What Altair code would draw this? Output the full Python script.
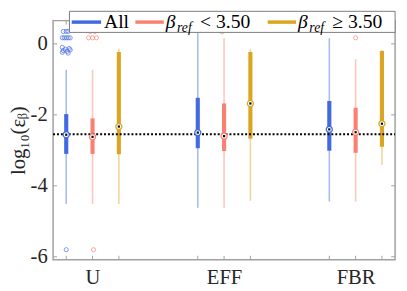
import altair as alt
import pandas as pd

# ---------------- data ----------------
groups = ["U", "EFF", "FBR"]
series = ["All", "β_ref < 3.50", "β_ref ≥ 3.50"]
colors = ["#4169E1", "#FA8072", "#DAA520"]

# order inside each group: All, <3.50, >=3.50
whisker_low = [-4.51, -4.51, -4.51, -4.62, -4.62, -4.42, -4.44, -4.44, -3.41]
q1 = [-3.10, -3.10, -3.11, -2.94, -3.02, -2.67, -3.01, -3.07, -2.90]
median = [-2.56, -2.62, -2.33, -2.50, -2.60, -1.68, -2.41, -2.49, -2.25]
q3 = [-1.98, -2.10, -0.23, -1.52, -1.68, -0.23, -1.61, -1.80, -0.20]
whisker_high = [-0.73, -0.73, -0.14, 0.55, 0.16, -0.14, 0.16, -0.43, -0.17]

outlier_group = (["U"] * 17 + ["U"] * 6 + ["EFF", "FBR"])
outlier_series = ([0] * 17 + [1] * 6 + [1, 1])
outlier_value = [0.35, 0.35, 0.35,
                 0.17, 0.17, 0.17, 0.17, 0.17,
                 -0.10, -0.13, -0.15, -0.17, -0.19, -0.21, -0.24, -0.26,
                 -5.80,
                 0.35, 0.35, 0.17, 0.17, 0.17, -5.80,
                 0.34, 0.17]
outlier_jitter_px = [-3, 0, 2,
                     -4, -2, 0, 2, 4,
                     -4, 3, -1, 4, -3, 1, -4, 2,
                     0,
                     -2.5, 2.5, -4, 0, 4, 1,
                     -2, 0]

threshold = -2.55
y_ticks = [-6, -4, -2, 0]
x_label_map = {1: "U", 2: "EFF", 3: "FBR"}

# ---------------- layout ----------------
W, H = 349, 244
X_DOM = [0.7, 3.3]
Y_DOM = [-6.083, 0.654]
OFFSET = 0.2
PX = (X_DOM[1] - X_DOM[0]) / W
FONT = "'Liberation Serif', 'DejaVu Serif', serif"
AXIS_GRAY = "#a0a0a0"

rows = []
for gi, g in enumerate(groups):
    for si, s in enumerate(series):
        k = gi * 3 + si
        rows.append(dict(group=g, series=s, x=gi + 1 + (si - 1) * OFFSET,
                         wl=whisker_low[k], q1=q1[k], med=median[k],
                         q3=q3[k], wh=whisker_high[k]))
box_df = pd.DataFrame(rows)

orows = []
for g, si, v, j in zip(outlier_group, outlier_series, outlier_value, outlier_jitter_px):
    gi = groups.index(g)
    orows.append(dict(series=series[si], x=gi + 1 + (si - 1) * OFFSET + j * PX, v=v))
out_df = pd.DataFrame(orows)

xs = alt.Scale(domain=X_DOM, nice=False, zero=False)
ys = alt.Scale(domain=Y_DOM, nice=False, zero=False)
cs = alt.Scale(domain=series, range=colors)

label_expr = " : ".join(
    [f"datum.value == {k} ? '{v}'" for k, v in x_label_map.items()]) + " : ''"

x_axis = alt.Axis(values=list(x_label_map.keys()), labelExpr=label_expr,
                  domain=False, ticks=False, grid=False, title=None,
                  labelFont=FONT, labelFontSize=21, labelColor="#262626",
                  labelPadding=7)
y_axis = alt.Axis(values=y_ticks,
                  labelExpr="datum.value == 0 ? '0' : '-' + abs(datum.value)",
                  domain=False, ticks=False, grid=False,
                  labelFont=FONT, labelFontSize=21, labelColor="#262626",
                  labelPadding=6,
                  title="log₁₀(εᵦ)", titleFont=FONT, titleFontSize=21,
                  titleFontWeight="normal", titleColor="#262626",
                  titleX=-35, titleY=122, titleAlign="center",
                  titleBaseline="middle")

base = alt.Chart(box_df)

whiskers = base.mark_rule(strokeWidth=1.6, opacity=0.45).encode(
    x=alt.X("x:Q", scale=xs, axis=x_axis),
    y=alt.Y("wl:Q", scale=ys, axis=y_axis),
    y2="wh:Q",
    color=alt.Color("series:N", scale=cs, legend=None),
)
boxes = base.mark_rule(strokeWidth=4.2, strokeCap="butt").encode(
    x=alt.X("x:Q", scale=xs),
    y=alt.Y("q1:Q", scale=ys),
    y2="q3:Q",
    color=alt.Color("series:N", scale=cs, legend=None),
)
outliers = alt.Chart(out_df).mark_point(shape="circle", size=18, strokeWidth=1,
                                        filled=False).encode(
    x=alt.X("x:Q", scale=xs),
    y=alt.Y("v:Q", scale=ys),
    color=alt.Color("series:N", scale=cs, legend=None),
)
thr = alt.Chart(pd.DataFrame({"t": [threshold]})).mark_rule(
    color="black", strokeWidth=2, strokeDash=[2, 2]).encode(
    y=alt.Y("t:Q", scale=ys), x=alt.value(0), x2=alt.value(W))

med_ring = base.mark_point(shape="circle", size=38, filled=True, fill="white",
                           strokeWidth=1.3, opacity=1).encode(
    x=alt.X("x:Q", scale=xs),
    y=alt.Y("med:Q", scale=ys),
    stroke=alt.Stroke("series:N", scale=cs, legend=None),
)
med_dot = base.mark_square(size=5, color="black", opacity=1).encode(
    x=alt.X("x:Q", scale=xs),
    y=alt.Y("med:Q", scale=ys),
)

# frame ticks (inward)
ytk = alt.Chart(pd.DataFrame({"v": y_ticks}))
xtk = alt.Chart(box_df)
tick_style = dict(color=AXIS_GRAY, strokeWidth=1)
left_ticks = ytk.mark_rule(**tick_style).encode(
    y=alt.Y("v:Q", scale=ys), x=alt.value(0), x2=alt.value(4))
right_ticks = ytk.mark_rule(**tick_style).encode(
    y=alt.Y("v:Q", scale=ys), x=alt.value(W - 4), x2=alt.value(W))
bottom_ticks = xtk.mark_rule(**tick_style).encode(
    x=alt.X("x:Q", scale=xs), y=alt.value(H), y2=alt.value(H - 4))
top_ticks = xtk.mark_rule(**tick_style).encode(
    x=alt.X("x:Q", scale=xs), y=alt.value(0), y2=alt.value(4))

# ---------------- legend (drawn by hand) ----------------
one = alt.Chart(pd.DataFrame({"a": [0]}))
LY = 1.5
leg_box = one.mark_rect(fill="white", stroke="#7a7a7a", strokeWidth=1).encode(
    x=alt.value(16.7), x2=alt.value(W), y=alt.value(-9.5), y2=alt.value(12))

leg_layers = [leg_box]
swatches = [(19, 49), (84, 113), (219, 248)]
for (a, b), c in zip(swatches, colors):
    leg_layers.append(one.mark_rule(color=c, strokeWidth=3.5, strokeCap="butt").encode(
        x=alt.value(a), x2=alt.value(b), y=alt.value(LY)))


def txt(s, x, y, size=20, style="normal"):
    return one.mark_text(text=s, font=FONT, fontSize=size, fontStyle=style,
                         align="left", baseline="middle", color="black").encode(
        x=alt.value(x), y=alt.value(y))


leg_layers += [
    txt("All", 52, LY),
    txt("β", 115, LY, style="italic"),
    txt("ref", 126.5, LY + 6, size=14, style="italic"),
    txt("< 3.50", 150, LY),
    txt("β", 250, LY, style="italic"),
    txt("ref", 261.5, LY + 6, size=14, style="italic"),
    txt("≥ 3.50", 285, LY),
]

chart = alt.layer(
    whiskers, boxes, outliers, thr, med_ring, med_dot,
    left_ticks, right_ticks, bottom_ticks, top_ticks,
    *leg_layers,
).properties(
    width=W, height=H,
    autosize=alt.AutoSizeParams(type="none"),
    padding={"left": 46, "top": 10, "right": 4, "bottom": 29},
).configure_view(
    stroke=AXIS_GRAY, strokeWidth=1.5
)

chart.save("out.html", embed_options={"renderer": "svg", "actions": False})
